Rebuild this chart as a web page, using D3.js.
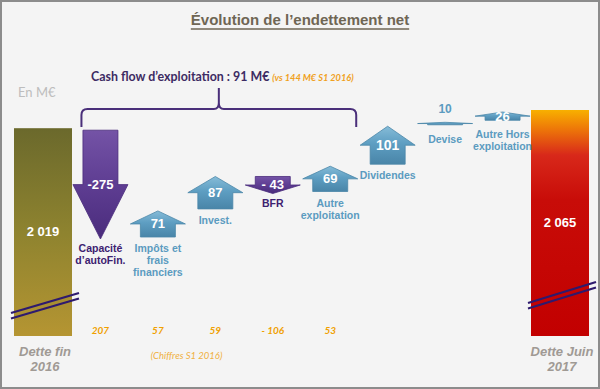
<!DOCTYPE html>
<html>
<head>
<meta charset="utf-8">
<title>Évolution de l'endettement net</title>
<script src="https://d3js.org/d3.v7.min.js"></script>
<style>
  body { margin: 0; background: #fff; }
  svg { display: block; }
</style>
</head>
<body>
<div id="chart"></div>
<script>
// ---- data (M€) ----
var debtStart = 2019, debtEnd = 2065;
var debtLabels = ["2 019", "2 065"];
var debtNames = [["Dette fin", "2016"], ["Dette Juin", "2017"]];
var stepNames = [["Capacité", "d’autoFin."], ["Impôts et", "frais", "financiers"], ["Invest."], ["BFR"],
                 ["Autre", "exploitation"], ["Dividendes"], ["Devise"], ["Autre Hors", "exploitation"]];
var stepValues = [-275, 71, 87, -43, 69, 101, 10, 26];
var stepTexts = ["-275", "71", "87", "- 43", "69", "101", "10", "26"];
var prevTexts = ["207", "57", "59", "- 106", "53"];   // chiffres S1 2016
var cashFlow = 91, cashFlowPrev = 144;

var W = 600, H = 389;
var baseY = 336;   // bottom of the (broken) debt bars

var svg = d3.select("#chart").append("svg").attr("width", W).attr("height", H);

var defs = svg.append("defs");
function grad(id, stops) {
  var g = defs.append("linearGradient").attr("id", id).attr("x1", 0).attr("y1", 0).attr("x2", 0).attr("y2", 1);
  stops.forEach(function(s) { g.append("stop").attr("offset", s[0]).attr("stop-color", s[1]); });
}
grad("gStart", [[0, "#6b692c"], [0.5, "#8e832f"], [1, "#b59532"]]);
grad("gEnd", [[0, "#f8b000"], [0.08, "#ee7a08"], [0.2, "#d8281a"], [0.4, "#c80c08"], [1, "#c20000"]]);
grad("gUp", [[0, "#86bcd8"], [0.45, "#5e9ec2"], [1, "#4985a8"]]);
grad("gDown", [[0, "#7453a6"], [0.5, "#5e3d92"], [1, "#4a2c7c"]]);

svg.append("rect").attr("x", 1).attr("y", 1).attr("width", W - 2).attr("height", H - 2)
  .attr("fill", "#f4f4f4").attr("stroke", "#8c8c8c").attr("stroke-width", 2);

// ---- scales ----
var keys = d3.range(stepValues.length + 2);
var x = d3.scalePoint().domain(keys).range([43, 560]);
var y = d3.scaleLinear().domain([1744, 2065]).range([239, 112]);

// title
var title = svg.append("text").attr("x", 300).attr("y", 25).attr("text-anchor", "middle")
  .style("font", "bold 15px 'Liberation Sans', Arial, sans-serif").attr("fill", "#6f6654")
  .text("Évolution de l’endettement net");
var tw = title.node().getComputedTextLength();
svg.append("line").attr("x1", 300 - tw / 2).attr("x2", 300 + tw / 2).attr("y1", 29).attr("y2", 29)
  .attr("stroke", "#6f6654").attr("stroke-width", 1.3);

svg.append("text").attr("x", 18).attr("y", 97)
  .style("font", "13px Lato, 'Open Sans', sans-serif").attr("fill", "#bdbdbd").text("En M€");

// ---- debt bars ----
var bars = [{k: 0, v: debtStart, fill: "url(#gStart)"}, {k: keys.length - 1, v: debtEnd, fill: "url(#gEnd)"}];
var barW = 58;
bars.forEach(function(b, i) {
  var top = y(b.v) - 2;
  svg.append("rect").attr("x", x(b.k) - barW / 2).attr("y", top)
    .attr("width", barW).attr("height", baseY - top).attr("fill", b.fill);
  svg.append("text").attr("x", x(b.k)).attr("y", (top + baseY) / 2 + 4).attr("text-anchor", "middle")
    .style("font", "bold 13px 'Liberation Sans', Arial, sans-serif").attr("fill", "#fff").text(debtLabels[i]);
  // axis break marks
  [0, 5.5].forEach(function(off) {
    svg.append("line")
      .attr("x1", x(b.k) - barW / 2 - 3).attr("y1", baseY - 23 - i * 10 + off)
      .attr("x2", x(b.k) + barW / 2 + 7).attr("y2", baseY - 43 - i * 11 + off)
      .attr("stroke", "#2e1a6e").attr("stroke-width", 2.2);
  });
  debtNames[i].forEach(function(t, j) {
    svg.append("text").attr("x", x(b.k) + 2).attr("y", 356 + j * 15).attr("text-anchor", "middle")
      .style("font", "italic bold 13px 'Liberation Sans', Arial, sans-serif").attr("fill", "#a09a94").text(t);
  });
});

// ---- step arrows ----
var hb = 17.5, hw = 27.5;
var level = debtStart;
stepValues.forEach(function(v, i) {
  var cx = x(i + 1);
  var from = level, to = level + v;
  level = to;
  var g = svg.append("g");
  var nameY;
  if (v >= 0) {
    var top = y(to), bot = y(from) - 2;
    var len = Math.max(bot - top, 2.5), h = len / 2;
    bot = top + len;
    g.append("path")
      .attr("d", "M" + (cx - hb) + "," + bot + "L" + (cx - hb) + "," + (top + h) + "L" + (cx - hw) + "," + (top + h) +
        "L" + cx + "," + top + "L" + (cx + hw) + "," + (top + h) + "L" + (cx + hb) + "," + (top + h) +
        "L" + (cx + hb) + "," + bot + "Z")
      .attr("fill", "url(#gUp)").attr("stroke", "#4a86a8").attr("stroke-width", 0.8);
    if (len < 6) {
      g.append("text").attr("x", cx).attr("y", top - 9).attr("text-anchor", "middle")
        .style("font", "bold 12px 'Liberation Sans', Arial, sans-serif").attr("fill", "#5b9bc0").text(stepTexts[i]);
    } else {
      g.append("text").attr("x", cx).attr("y", top + h + 4.5).attr("text-anchor", "middle")
        .style("font", "bold " + (len > 35 ? 14 : 13) + "px 'Liberation Sans', Arial, sans-serif")
        .attr("fill", "#fff").text(stepTexts[i]);
    }
    nameY = bot + (len < 10 ? 18 : 15);
    stepNames[i].forEach(function(t, j) {
      g.append("text").attr("x", cx).attr("y", nameY + j * 12).attr("text-anchor", "middle")
        .style("font", "bold 10.5px 'Liberation Sans', Arial, sans-serif").attr("fill", "#5b9bc0").text(t);
    });
  } else {
    var top2 = y(from), tip = y(to);
    var len2 = tip - top2, h2 = len2 / 2;
    g.append("path")
      .attr("d", "M" + (cx - hb) + "," + top2 + "L" + (cx + hb) + "," + top2 + "L" + (cx + hb) + "," + (tip - h2) +
        "L" + (cx + hw) + "," + (tip - h2) + "L" + cx + "," + tip + "L" + (cx - hw) + "," + (tip - h2) +
        "L" + (cx - hb) + "," + (tip - h2) + "Z")
      .attr("fill", "url(#gDown)").attr("stroke", "#4a2c7c").attr("stroke-width", 0.8);
    g.append("text").attr("x", cx).attr("y", tip - h2 + 4.5).attr("text-anchor", "middle")
      .style("font", "bold 13px 'Liberation Sans', Arial, sans-serif").attr("fill", "#fff").text(stepTexts[i]);
    stepNames[i].forEach(function(t, j) {
      g.append("text").attr("x", cx).attr("y", tip + 13 + j * 12).attr("text-anchor", "middle")
        .style("font", "bold 10.5px 'Liberation Sans', Arial, sans-serif").attr("fill", "#3d2170").text(t);
    });
  }
});

// ---- previous period figures ----
prevTexts.forEach(function(t, i) {
  svg.append("text").attr("x", x(i + 1)).attr("y", 334).attr("text-anchor", "middle")
    .style("font", "italic bold 10px Lato, 'Open Sans', sans-serif").attr("fill", "#f0a000").text(t);
});
svg.append("text").attr("x", (x(2) + x(3)) / 2).attr("y", 359).attr("text-anchor", "middle")
  .style("font", "italic 9.5px Lato, 'Open Sans', sans-serif").attr("fill", "#f0b040").text("(Chiffres S1 2016)");

// ---- brace over operating cash flow steps ----
var bx0 = x(1) - 19, bx1 = x(5) + 26, bm = (bx0 + bx1) / 2;
var byT = 109, byB = 127, r = 6;
svg.append("path")
  .attr("d", "M" + bx0 + "," + byB + "L" + bx0 + "," + (byT + r) + "Q" + bx0 + "," + byT + " " + (bx0 + r) + "," + byT +
    "L" + (bm - 5) + "," + byT + "Q" + bm + "," + byT + " " + bm + "," + (byT - 6) + "L" + bm + "," + 88 +
    "M" + bm + "," + (byT - 6) + "Q" + bm + "," + byT + " " + (bm + 5) + "," + byT +
    "L" + (bx1 - r) + "," + byT + "Q" + bx1 + "," + byT + " " + bx1 + "," + (byT + r) + "L" + bx1 + "," + byB)
  .attr("fill", "none").attr("stroke", "#4a2f7a").attr("stroke-width", 2);

var cf = svg.append("text").attr("x", 91).attr("y", 81)
  .style("font", "bold 12.4px Lato, 'Open Sans', sans-serif").attr("fill", "#3d2b63");
cf.append("tspan").text("Cash flow d’exploitation  : " + cashFlow + " M€ ");
cf.append("tspan").attr("fill", "#f0a020").style("font", "italic bold 9.2px Lato, 'Open Sans', sans-serif")
  .text("(vs " + cashFlowPrev + " M€ S1 2016)");
</script>
</body>
</html>
